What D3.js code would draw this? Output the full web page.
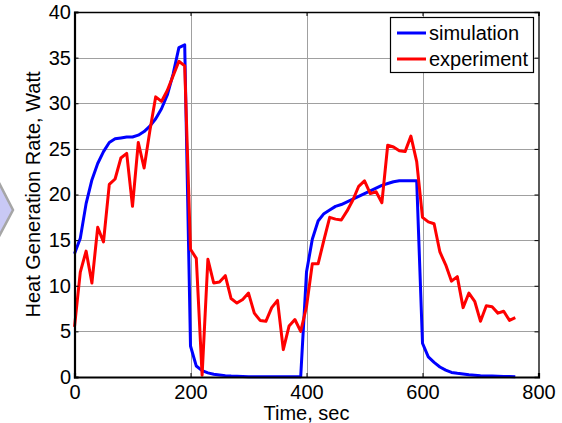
<!DOCTYPE html>
<html>
<head>
<meta charset="utf-8">
<script src="https://cdn.jsdelivr.net/npm/d3@7"></script>
<style>
  html, body { margin: 0; padding: 0; background: #fff; }
  svg { display: block; font-family: "Liberation Sans", Arial, sans-serif; }
</style>
</head>
<body>
<svg id="chart" width="562" height="423"></svg>
<script>
// Sample times, seconds (10 s step)
const times = d3.range(0, 770, 10);

// Simulated heat generation rate, W
const simulation = [
  13.5, 15.2, 19.0, 21.6, 23.4, 24.7, 25.7, 26.1, 26.2, 26.3,
  26.3, 26.5, 26.9, 27.5, 28.3, 29.4, 30.9, 33.2, 36.1, 36.4,
  3.4, 1.2, 0.7, 0.45, 0.3, 0.22, 0.15, 0.1, 0.07, 0.05,
  0.03, 0.02, 0.02, 0.02, 0.02, 0.02, 0.02, 0.02, 0.02, 0.02,
  11.5, 15.1, 17.1, 17.9, 18.3, 18.7, 18.9, 19.2, 19.5, 19.8,
  20.1, 20.4, 20.7, 21.0, 21.2, 21.4, 21.5, 21.5, 21.5, 21.5,
  3.7, 2.2, 1.6, 1.1, 0.75, 0.5, 0.4, 0.32, 0.25, 0.2,
  0.15, 0.12, 0.1, 0.08, 0.06, 0.05, 0.03
];

// Measured heat generation rate, W
const experiment = [
  5.5, 11.5, 13.8, 10.3, 16.4, 14.8, 21.1, 21.7, 24.0, 24.5,
  18.7, 25.7, 22.9, 27.0, 30.7, 30.2, 31.4, 33.0, 34.6, 34.1,
  14.0, 13.0, 0.2, 12.9, 10.3, 10.4, 11.1, 8.6, 8.1, 8.5,
  9.2, 7.0, 6.2, 6.1, 7.6, 8.4, 3.0, 5.6, 6.3, 5.0,
  7.7, 12.4, 12.4, 15.0, 17.5, 17.3, 17.2, 18.2, 19.4, 20.9,
  21.5, 20.1, 20.3, 19.1, 25.4, 25.2, 24.8, 24.7, 26.4, 23.6,
  17.5, 17.0, 16.8, 13.7, 12.3, 10.5, 11.0, 7.6, 9.2, 8.3,
  6.1, 7.8, 7.7, 7.0, 7.2, 6.2, 6.5
];

const xTicks = [0, 200, 400, 600, 800];
const yTicks = [0, 5, 10, 15, 20, 25, 30, 35, 40];
const seriesNames = ["simulation", "experiment"];
const seriesColors = ["#0000ff", "#ff0000"];

const svg = d3.select("#chart");
const plotLeft = 74.5, plotRight = 538.5, plotTop = 12, plotBottom = 377;

const x = d3.scaleLinear().domain([0, 800]).range([plotLeft, plotRight]);
const y = d3.scaleLinear().domain([0, 40]).range([plotBottom, plotTop]);

// Decorative arrow shape at the left edge
svg.append("path")
  .attr("d", "M-4,177 L13,210 L-4,242 Z")
  .attr("fill", "#c9c9f5")
  .attr("stroke", "#a6a6a6")
  .attr("stroke-width", 2.5);

// Grid lines
const grid = svg.append("g").attr("stroke", "#a0a0a0").attr("stroke-width", 1);
grid.selectAll("line.gx")
  .data(xTicks.filter(d => d > 0 && d < 800))
  .join("line")
  .attr("x1", d => Math.round(x(d)) + 0.5).attr("x2", d => Math.round(x(d)) + 0.5)
  .attr("y1", plotTop).attr("y2", plotBottom);
grid.selectAll("line.gy")
  .data(yTicks.filter(d => d > 0 && d < 40))
  .join("line")
  .attr("y1", d => Math.round(y(d)) + 0.5).attr("y2", d => Math.round(y(d)) + 0.5)
  .attr("x1", plotLeft).attr("x2", plotRight);

// Data lines
const line = d3.line().x((d, i) => x(times[i])).y(d => y(d));
[simulation, experiment].forEach((s, k) => {
  svg.append("path")
    .datum(s)
    .attr("fill", "none")
    .attr("stroke", seriesColors[k])
    .attr("stroke-width", 3)
    .attr("stroke-linejoin", "round")
    .attr("d", line);
});

// Axes with inward ticks
const xAxis = svg.append("g")
  .attr("transform", `translate(0,${plotBottom})`)
  .call(d3.axisBottom(x).tickValues(xTicks).tickSize(-4).tickPadding(8));
const yAxis = svg.append("g")
  .attr("transform", `translate(${plotLeft},0)`)
  .call(d3.axisLeft(y).tickValues(yTicks).tickSize(-4).tickPadding(3.5));
const xTop = svg.append("g")
  .attr("transform", `translate(0,${plotTop})`)
  .call(d3.axisTop(x).tickValues(xTicks).tickSize(-4).tickFormat(""));
const yRight = svg.append("g")
  .attr("transform", `translate(${plotRight},0)`)
  .call(d3.axisRight(y).tickValues(yTicks).tickSize(-4).tickFormat(""));

[xAxis, yAxis, xTop, yRight].forEach(g => {
  g.selectAll("path.domain").attr("stroke", "#000");
  g.selectAll(".tick line").attr("stroke", "#000");
  g.selectAll("text").attr("fill", "#000").attr("font-size", 20)
    .attr("font-family", "'Liberation Sans', Arial, sans-serif");
});
xAxis.select("path.domain").attr("stroke-width", 2.2);
yAxis.select("path.domain").attr("stroke-width", 2.2);
xTop.select("path.domain").attr("stroke-width", 1.3);
yRight.select("path.domain").attr("stroke-width", 1.3);

// Axis titles
svg.append("text")
  .attr("x", (plotLeft + plotRight) / 2).attr("y", 420)
  .attr("text-anchor", "middle").attr("font-size", 20)
  .text("Time, sec");
svg.append("text")
  .attr("transform", `translate(40,${(plotTop + plotBottom) / 2}) rotate(-90)`)
  .attr("text-anchor", "middle").attr("font-size", 20)
  .text("Heat Generation Rate, Watt");

// Legend
const legend = svg.append("g");
legend.append("rect")
  .attr("x", 390.5).attr("y", 17.5).attr("width", 143).attr("height", 55)
  .attr("fill", "#fff").attr("stroke", "#000").attr("stroke-width", 1.2);
seriesNames.forEach((name, k) => {
  const cy = 33 + k * 26;
  legend.append("line")
    .attr("x1", 397).attr("x2", 426).attr("y1", cy).attr("y2", cy)
    .attr("stroke", seriesColors[k]).attr("stroke-width", 3);
  legend.append("text")
    .attr("x", 429).attr("y", cy + 7).attr("font-size", 20)
    .text(name);
});
</script>
</body>
</html>
